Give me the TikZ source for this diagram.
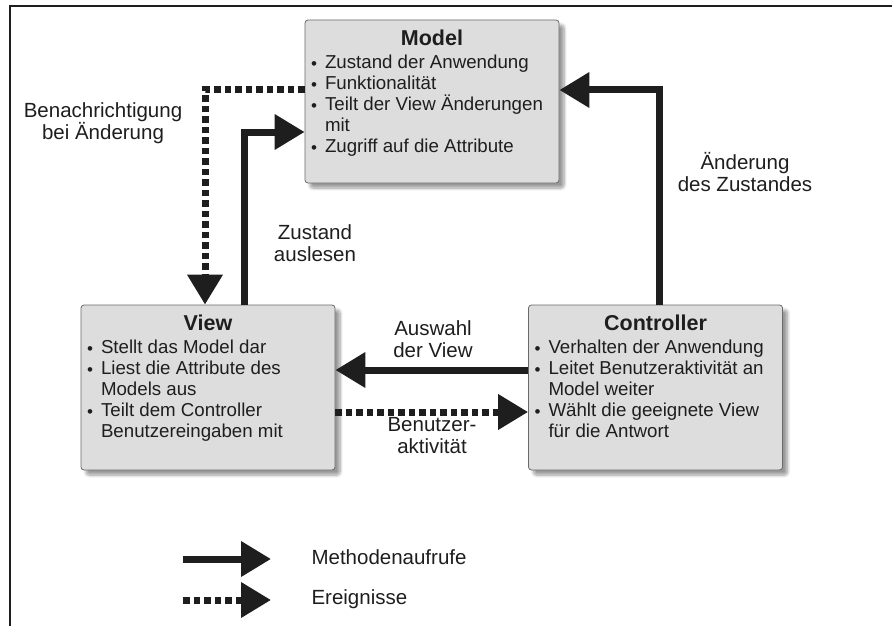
\documentclass[tikz,border=0pt]{standalone}
\usepackage{fontspec}
\setmainfont{Liberation Sans}
\usepackage{tikz}
\usetikzlibrary{arrows.meta,shadows.blur}
\definecolor{mvcgray}{RGB}{221,221,221}
\definecolor{mvcedge}{RGB}{105,105,105}
\definecolor{mvcink}{RGB}{30,30,30}

\newcommand{\boxtitle}[1]{{\centering\fontsize{21.5}{23}\selectfont\bfseries #1\par}\vspace{2pt}}
\newcommand{\bitem}[1]{\hangindent=14pt\hangafter=1\noindent\makebox[14pt][l]{\raisebox{-1.2pt}{\fontsize{17}{17}\selectfont\textbullet}}#1\par}
\newcommand{\boxtext}[2]{\parbox[c][#1][t]{254pt}{\raggedright\leftskip=6pt\fontsize{18.7}{21}\selectfont\vspace*{10pt}#2}}

\begin{document}
\begin{tikzpicture}[x=1pt,y=-1pt,font=\fontsize{20.5}{22}\selectfont,text=mvcink,
  mvcbox/.style={draw=mvcedge,line width=0.8pt,fill=mvcgray,rounded corners=3pt,inner sep=0pt,
    blur shadow={shadow xshift=5pt,shadow yshift=-5pt,shadow blur steps=8,shadow blur radius=3pt}},
  call/.style={draw=mvcink,line width=7pt,-{Triangle[length=30pt,width=34pt]}},
  event/.style={call,dash pattern=on 6.5pt off 4pt},
  msg/.style={align=center}]
  \useasboundingbox (0,0) rectangle (892,626);
  \draw[mvcink,line width=2.5pt] (10,630) -- (10,6) -- (895,6);

  \node[mvcbox] (model) at (432,101.5) {\boxtext{163pt}{\boxtitle{Model}
    \bitem{Zustand der Anwendung}
    \bitem{Funktionalität}
    \bitem{Teilt der View Änderungen\newline mit}
    \bitem{Zugriff auf die Attribute}}};
  \node[mvcbox] (view) at (208,387.5) {\boxtext{165pt}{\boxtitle{View}
    \bitem{Stellt das Model dar}
    \bitem{Liest die Attribute des\newline Models aus}
    \bitem{Teilt dem Controller\newline Benutzereingaben mit}}};
  \node[mvcbox] (ctrl) at (655.5,387.5) {\boxtext{165pt}{\boxtitle{Controller}
    \bitem{Verhalten der Anwendung}
    \bitem{Leitet Benutzeraktivität an\newline Model weiter}
    \bitem{Wählt die geeignete View\newline für die Antwort}}};

  \draw[event] ([yshift=11.5pt]model.west) -| ([xshift=-3pt]view.north);
  \draw[call] ([xshift=36pt]view.north) |- ([yshift=-30.5pt]model.west);
  \draw[call] ([xshift=3.5pt]ctrl.north) |- ([yshift=11.5pt]model.east);
  \draw[call] ([yshift=17.5pt]ctrl.west) -- ([yshift=17.5pt]view.east);
  \draw[event] ([yshift=-24.5pt]view.east) -- ([yshift=-24.5pt]ctrl.west);

  \node[msg] (notifytext) at (103,123) {Benachrichtigung\\bei Änderung};
  \node[msg] (readtext) at (315,243) {Zustand\\auslesen};
  \node[msg] (changetext) at (745,172) {Änderung\\des Zustandes};
  \node[msg] (selecttext) at (433,339) {Auswahl\\der View};
  \node[msg] (usertext) at (432,436) {Benutzer-\\aktivität};

  \coordinate (callA) at (183,559);
  \coordinate (callB) at (271,559);
  \coordinate (eventA) at (183,600);
  \coordinate (eventB) at (271,600);
  \draw[call] (callA) -- (callB);
  \draw[event] (eventA) -- (eventB);
  \node[anchor=west] (callkey) at (308,557) {Methodenaufrufe};
  \node[anchor=west] (eventkey) at (308,599) {Ereignisse};
\end{tikzpicture}
\end{document}
